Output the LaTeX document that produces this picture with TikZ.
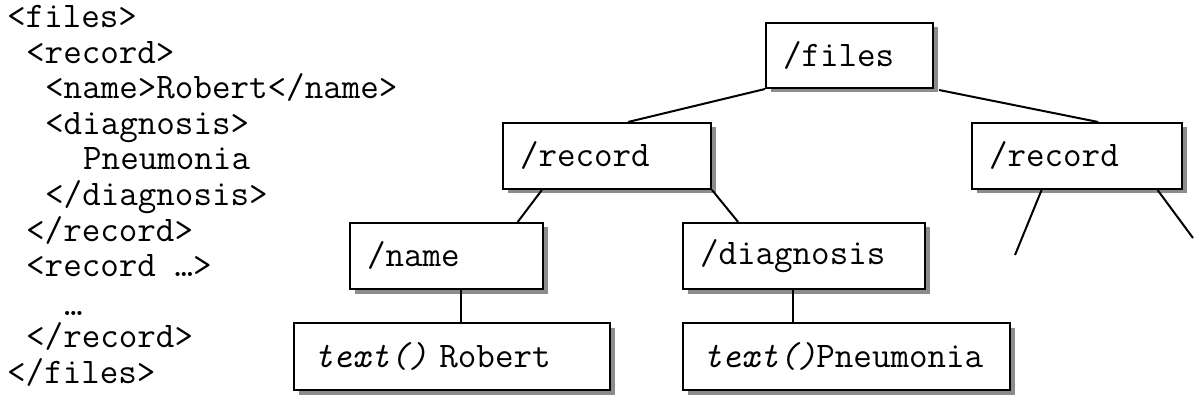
\documentclass[tikz,border=0pt]{standalone}
\usepackage{fontspec}
\usetikzlibrary{calc,shadows}
\begin{document}
\begin{tikzpicture}[x=1pt,y=-1pt,
  every node/.style={font=\ttfamily\fontsize{36}{40}\selectfont},
  box/.style={draw=black, line width=2pt, fill=white, rectangle, inner xsep=17pt, inner ysep=0pt, align=left,
    drop shadow={shadow xshift=4.5pt, shadow yshift=-4.5pt, fill=black!45, opacity=1}},
  tbox/.style={box, inner xsep=20pt},
  edge/.style={line width=2pt},
  code/.style={anchor=base west, inner sep=0pt}]
\useasboundingbox (0,0) rectangle (1194,414);

% left column
\node[code] (l1)  at (7,28)    {<files>};
\node[code] (l2)  at (26,63.5) {<record>};
\node[code] (l3)  at (45,99)   {<name>Robert</name>};
\node[code] (l4)  at (45,134.5){<diagnosis>};
\node[code] (l5)  at (83,170)  {Pneumonia};
\node[code] (l6)  at (45,205.5){</diagnosis>};
\node[code] (l7)  at (26,241)  {</record>};
\node[code] (l8)  at (26,276.5){<record …>};
\node[code] (l9)  at (64,315)  {…};
\node[code] (l10) at (26,347.5){</record>};
\node[code] (l11) at (7,383)   {</files>};

% tree
\node[box, text width=167pt-34pt, minimum height=65pt] (files) at (849.5,55.5) {/files};
\node[box, text width=208pt-34pt, minimum height=66pt] (recL) at (607,156) {/record};
\node[box, text width=210pt-34pt, minimum height=66pt] (recR) at (1077,156) {/record};
\node[box, text width=193pt-34pt, minimum height=66pt] (name) at (446.5,256) {/name};
\node[box, text width=242pt-34pt, minimum height=66pt] (diag) at (804,256) {/diagnosis};
\node[tbox, text width=316pt-40pt, minimum height=67pt] (textR) at (452,356.5) {\textit{text()} Robert};
\node[tbox, text width=327pt-40pt, minimum height=67pt] (textP) at (846.5,356.5) {\textit{text()}Pneumonia};

\coordinate (s1) at (1015,255);
\coordinate (s2) at (1193,238);

\draw[edge] (files.south west) -- ($(recL.north west)!0.6!(recL.north east)$);
\draw[edge] ($(files.south east)+(5,1)$) -- ($(recR.north west)!0.6!(recR.north east)$);
\draw[edge] ($(recL.south west)!0.19!(recL.south east)$) -- ($(name.north west)!0.865!(name.north east)$);
\draw[edge] (recL.south east) -- ($(diag.north west)!0.23!(diag.north east)$);
\draw[edge] ($(name.south west)!0.575!(name.south east)$) coordinate (n1) -- (n1 |- textR.north);
\draw[edge] ($(diag.south west)!0.455!(diag.south east)$) coordinate (d1) -- (d1 |- textP.north);
\draw[edge] ($(recR.south west)!0.333!(recR.south east)$) -- (s1);
\draw[edge] ($(recR.south west)!0.88!(recR.south east)$) -- (s2);
\end{tikzpicture}
\end{document}
